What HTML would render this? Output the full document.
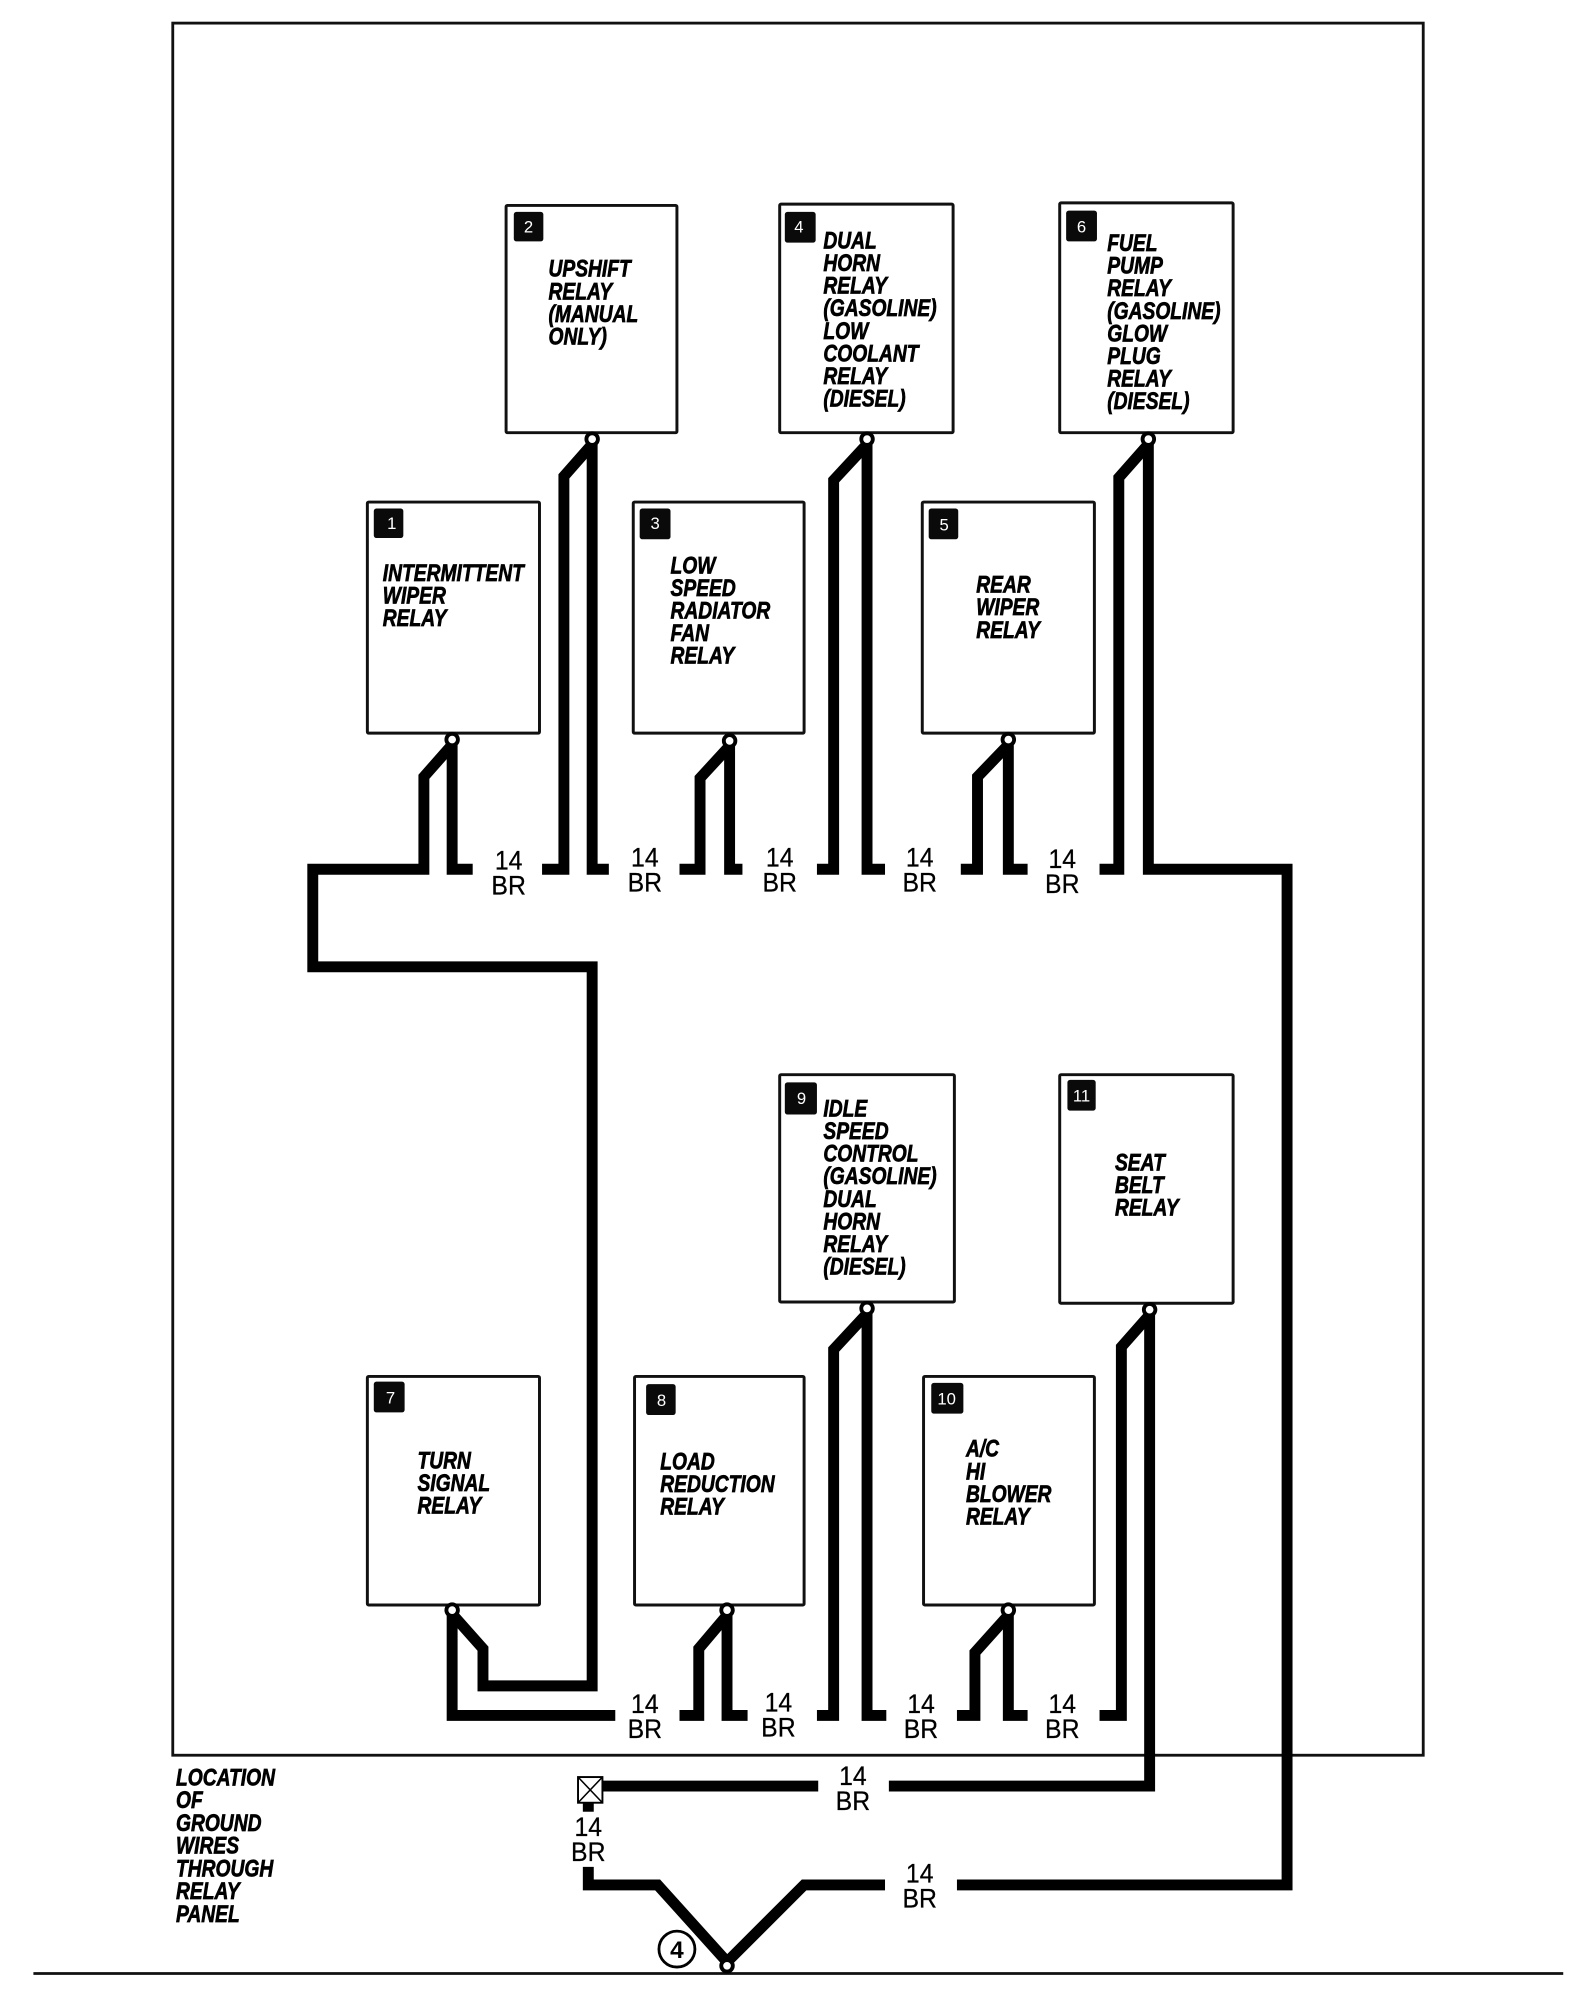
<!DOCTYPE html>
<html><head><meta charset="utf-8"><style>
html,body{margin:0;padding:0;background:#fff;width:1596px;height:2013px;overflow:hidden}
svg{display:block}
.l{font:italic bold 18.5px "Liberation Sans",sans-serif;fill:#000;stroke:#000;stroke-width:.55}
.w{font:21px "Liberation Sans",sans-serif;fill:#000;stroke:#000;stroke-width:.2;text-anchor:middle}
.n{font:13px "Liberation Sans",sans-serif;fill:#fff;text-anchor:middle}
.b{fill:#fff;stroke:#111;stroke-width:2.300}
.s{fill:#0a0a0a}
.t{fill:none;stroke:#000;stroke-width:8.500;stroke-linejoin:miter;stroke-linecap:butt}
</style></head><body>
<svg width="1596" height="2013" viewBox="0 0 1596 2013" xmlns="http://www.w3.org/2000/svg">
<rect width="1596" height="2013" fill="#fff"/>
<g transform="scale(1.2845,1.284)">
<rect x="134.500" y="18" width="973.500" height="1349" fill="none" stroke="#111" stroke-width="2.200"/>
<line x1="26" y1="1537" x2="1217" y2="1537" stroke="#111" stroke-width="2.200"/>

<!-- wires -->
<g class="t">
<path d="M352 576V677H368"/>
<path d="M352 580L330 605V677H243.500V753H461V1313H376V1284L352 1257"/>
<path d="M352 1254V1336H479"/>
<path d="M461 342V677H474"/>
<path d="M461 346L439 371V677H422"/>
<path d="M568 577V677H578"/>
<path d="M568 581L545 606V677H529"/>
<path d="M675 342V677H689"/>
<path d="M675 346L649 374V677H636"/>
<path d="M785 576V677H800"/>
<path d="M785 580L761 605V677H748"/>
<path d="M894 342V677H1002V1468H745"/>
<path d="M894 346L871 372V677H856"/>
<path d="M566 1254V1336H582"/>
<path d="M566 1258L544 1284V1336H529"/>
<path d="M675 1019V1336H690"/>
<path d="M675 1023L649 1051V1336H636"/>
<path d="M785 1254V1336H800"/>
<path d="M785 1258L759 1287V1336H745"/>
<path d="M895 1020V1391H692"/>
<path d="M895 1024L873 1049V1336H856"/>
<path d="M468 1391H637"/>
<path d="M458 1403V1411"/>
<path d="M458 1454V1468H512L566 1528L626 1468H689"/>
</g>

<!-- boxes -->
<rect class="b" x="394" y="160" width="133" height="177" rx="1"/>
<rect class="b" x="607" y="159" width="135" height="178" rx="1"/>
<rect class="b" x="825" y="158" width="135" height="179" rx="1"/>
<rect class="b" x="286" y="391" width="134" height="180" rx="1"/>
<rect class="b" x="493" y="391" width="133" height="180" rx="1"/>
<rect class="b" x="718" y="391" width="134" height="180" rx="1"/>
<rect class="b" x="607" y="837" width="136" height="177" rx="1"/>
<rect class="b" x="825" y="837" width="135" height="178" rx="1"/>
<rect class="b" x="286" y="1072" width="134" height="178" rx="1"/>
<rect class="b" x="494" y="1072" width="132" height="178" rx="1"/>
<rect class="b" x="719" y="1072" width="133" height="178" rx="1"/>

<!-- number tags -->
<rect class="s" x="400" y="165" width="23" height="23" rx="2"/><text class="n" x="411.500" y="181">2</text>
<rect class="s" x="611" y="165" width="24" height="24" rx="2"/><text class="n" x="622" y="181">4</text>
<rect class="s" x="830" y="164" width="24" height="24" rx="2"/><text class="n" x="842" y="181">6</text>
<rect class="s" x="291" y="396" width="23" height="23" rx="2"/><text class="n" x="305" y="412">1</text>
<rect class="s" x="498" y="396" width="24" height="24" rx="2"/><text class="n" x="510" y="412">3</text>
<rect class="s" x="723" y="396" width="23" height="24" rx="2"/><text class="n" x="735" y="413">5</text>
<rect class="s" x="611" y="843" width="25" height="25" rx="2"/><text class="n" x="624" y="860">9</text>
<rect class="s" x="831" y="841" width="22" height="24" rx="2"/><text class="n" x="842" y="858">11</text>
<rect class="s" x="291" y="1076" width="24" height="24" rx="2"/><text class="n" x="304" y="1093">7</text>
<rect class="s" x="503" y="1078" width="23" height="24" rx="2"/><text class="n" x="515" y="1095">8</text>
<rect class="s" x="725" y="1077" width="25" height="24" rx="2"/><text class="n" x="737" y="1094">10</text>

<!-- box labels -->
<text class="l" transform="translate(427,215.500) scale(.81,1)"><tspan x="0">UPSHIFT</tspan><tspan x="0" dy="17.600">RELAY</tspan><tspan x="0" dy="17.600">(MANUAL</tspan><tspan x="0" dy="17.600">ONLY)</tspan></text>
<text class="l" transform="translate(641,193.500) scale(.81,1)"><tspan x="0">DUAL</tspan><tspan x="0" dy="17.600">HORN</tspan><tspan x="0" dy="17.600">RELAY</tspan><tspan x="0" dy="17.600">(GASOLINE)</tspan><tspan x="0" dy="17.600">LOW</tspan><tspan x="0" dy="17.600">COOLANT</tspan><tspan x="0" dy="17.600">RELAY</tspan><tspan x="0" dy="17.600">(DIESEL)</tspan></text>
<text class="l" transform="translate(862,195.500) scale(.81,1)"><tspan x="0">FUEL</tspan><tspan x="0" dy="17.600">PUMP</tspan><tspan x="0" dy="17.600">RELAY</tspan><tspan x="0" dy="17.600">(GASOLINE)</tspan><tspan x="0" dy="17.600">GLOW</tspan><tspan x="0" dy="17.600">PLUG</tspan><tspan x="0" dy="17.600">RELAY</tspan><tspan x="0" dy="17.600">(DIESEL)</tspan></text>
<text class="l" transform="translate(298,452.500) scale(.81,1)"><tspan x="0">INTERMITTENT</tspan><tspan x="0" dy="17.600">WIPER</tspan><tspan x="0" dy="17.600">RELAY</tspan></text>
<text class="l" transform="translate(522,446.500) scale(.81,1)"><tspan x="0">LOW</tspan><tspan x="0" dy="17.600">SPEED</tspan><tspan x="0" dy="17.600">RADIATOR</tspan><tspan x="0" dy="17.600">FAN</tspan><tspan x="0" dy="17.600">RELAY</tspan></text>
<text class="l" transform="translate(760,461.500) scale(.81,1)"><tspan x="0">REAR</tspan><tspan x="0" dy="17.600">WIPER</tspan><tspan x="0" dy="17.600">RELAY</tspan></text>
<text class="l" transform="translate(641,869.500) scale(.81,1)"><tspan x="0">IDLE</tspan><tspan x="0" dy="17.600">SPEED</tspan><tspan x="0" dy="17.600">CONTROL</tspan><tspan x="0" dy="17.600">(GASOLINE)</tspan><tspan x="0" dy="17.600">DUAL</tspan><tspan x="0" dy="17.600">HORN</tspan><tspan x="0" dy="17.600">RELAY</tspan><tspan x="0" dy="17.600">(DIESEL)</tspan></text>
<text class="l" transform="translate(868,911.500) scale(.81,1)"><tspan x="0">SEAT</tspan><tspan x="0" dy="17.600">BELT</tspan><tspan x="0" dy="17.600">RELAY</tspan></text>
<text class="l" transform="translate(325,1143.500) scale(.81,1)"><tspan x="0">TURN</tspan><tspan x="0" dy="17.600">SIGNAL</tspan><tspan x="0" dy="17.600">RELAY</tspan></text>
<text class="l" transform="translate(514,1144.500) scale(.81,1)"><tspan x="0">LOAD</tspan><tspan x="0" dy="17.600">REDUCTION</tspan><tspan x="0" dy="17.600">RELAY</tspan></text>
<text class="l" transform="translate(752,1134.500) scale(.81,1)"><tspan x="0">A/C</tspan><tspan x="0" dy="17.600">HI</tspan><tspan x="0" dy="17.600">BLOWER</tspan><tspan x="0" dy="17.600">RELAY</tspan></text>
<text class="l" transform="translate(137,1390.500) scale(.81,1)"><tspan x="0">LOCATION</tspan><tspan x="0" dy="17.700">OF</tspan><tspan x="0" dy="17.700">GROUND</tspan><tspan x="0" dy="17.700">WIRES</tspan><tspan x="0" dy="17.700">THROUGH</tspan><tspan x="0" dy="17.700">RELAY</tspan><tspan x="0" dy="17.700">PANEL</tspan></text>

<!-- wire labels -->
<text class="w" transform="translate(396,677) scale(.92,1)"><tspan x="0">14</tspan><tspan x="0" dy="19.500">BR</tspan></text>
<text class="w" transform="translate(502,675) scale(.92,1)"><tspan x="0">14</tspan><tspan x="0" dy="19.500">BR</tspan></text>
<text class="w" transform="translate(607,675) scale(.92,1)"><tspan x="0">14</tspan><tspan x="0" dy="19.500">BR</tspan></text>
<text class="w" transform="translate(716,675) scale(.92,1)"><tspan x="0">14</tspan><tspan x="0" dy="19.500">BR</tspan></text>
<text class="w" transform="translate(827,676) scale(.92,1)"><tspan x="0">14</tspan><tspan x="0" dy="19.500">BR</tspan></text>
<text class="w" transform="translate(502,1334) scale(.92,1)"><tspan x="0">14</tspan><tspan x="0" dy="19.500">BR</tspan></text>
<text class="w" transform="translate(606,1333) scale(.92,1)"><tspan x="0">14</tspan><tspan x="0" dy="19.500">BR</tspan></text>
<text class="w" transform="translate(717,1334) scale(.92,1)"><tspan x="0">14</tspan><tspan x="0" dy="19.500">BR</tspan></text>
<text class="w" transform="translate(827,1334) scale(.92,1)"><tspan x="0">14</tspan><tspan x="0" dy="19.500">BR</tspan></text>
<text class="w" transform="translate(664,1390) scale(.92,1)"><tspan x="0">14</tspan><tspan x="0" dy="19.500">BR</tspan></text>
<text class="w" transform="translate(716,1466) scale(.92,1)"><tspan x="0">14</tspan><tspan x="0" dy="19.500">BR</tspan></text>
<text class="w" transform="translate(458,1430) scale(.92,1)"><tspan x="0">14</tspan><tspan x="0" dy="19.500">BR</tspan></text>

<!-- terminals -->
<g fill="#fff" stroke="#000" stroke-width="3">
<circle cx="461" cy="342" r="4.500"/><circle cx="675" cy="342" r="4.500"/><circle cx="894" cy="342" r="4.500"/>
<circle cx="352" cy="576" r="4.500"/><circle cx="568" cy="577" r="4.500"/><circle cx="785" cy="576" r="4.500"/>
<circle cx="675" cy="1019" r="4.500"/><circle cx="895" cy="1020" r="4.500"/>
<circle cx="352" cy="1254" r="4.500"/><circle cx="566" cy="1254" r="4.500"/><circle cx="785" cy="1254" r="4.500"/>
<circle cx="566" cy="1531" r="4.500"/>
</g>

<!-- ground symbol -->
<rect x="450" y="1384" width="19" height="20" fill="#fff" stroke="#000" stroke-width="1.500"/>
<path d="M450 1384L469 1404M469 1384L450 1404" stroke="#000" stroke-width="1.200"/>

<!-- circled 4 -->
<circle cx="527" cy="1518" r="14" fill="#fff" stroke="#000" stroke-width="2.200"/>
<text x="527" y="1525" text-anchor="middle" style="font:bold 19px 'Liberation Sans',sans-serif">4</text>
</g>
</svg>
</body></html>
